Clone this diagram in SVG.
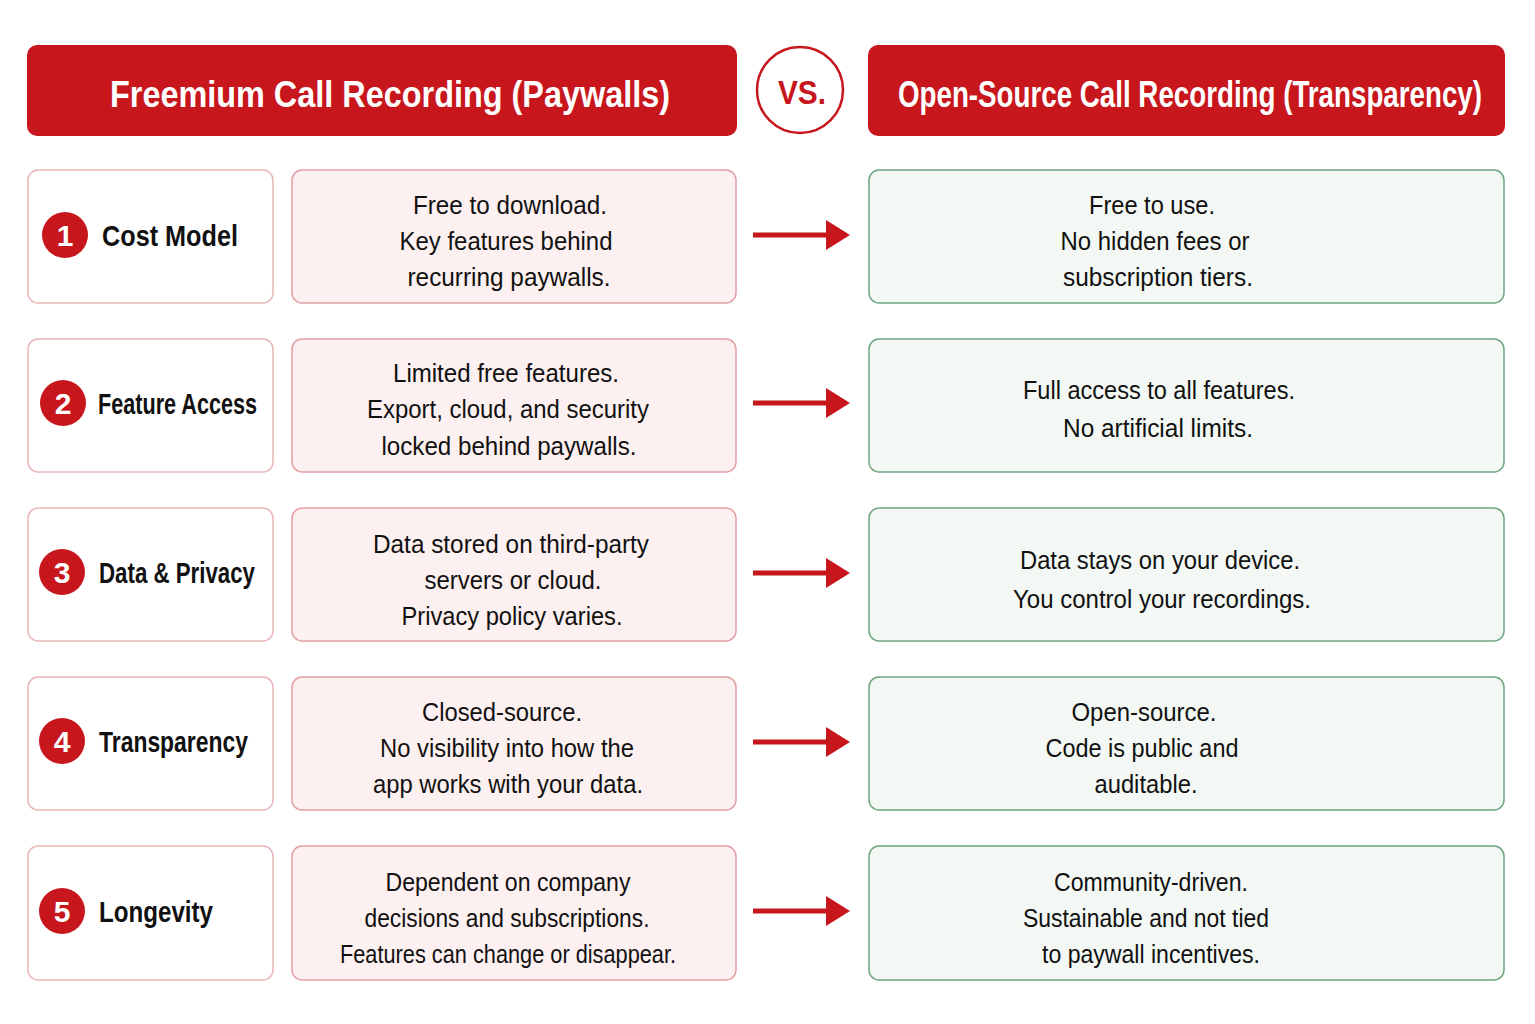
<svg xmlns="http://www.w3.org/2000/svg" width="1535" height="1024" viewBox="0 0 1535 1024">
<style>
text{font-family:"Liberation Sans",Arial,sans-serif;text-anchor:middle}
.ht{fill:#fff;font-size:36px;font-weight:bold}
.lab{fill:#fff;stroke:#eab5b8;stroke-width:1.5}
.mid{fill:#fdf0f0;stroke:#e39ea3;stroke-width:1.5}
.rt{fill:#f3f8f4;stroke:#6ea581;stroke-width:1.5}
.t{font-size:26px;fill:#111}
.lt{font-size:30px;font-weight:bold;fill:#111;text-anchor:start}
.num{fill:#fff;font-size:30px;font-weight:bold}
.arr{stroke:#c8161d;stroke-width:5}
</style>
<defs>
<marker id="ah" markerWidth="24" markerHeight="30" refX="2" refY="15" orient="auto" markerUnits="userSpaceOnUse" viewBox="0 0 24 30"><path d="M0,0L24,15L0,30z" fill="#c8161d"/></marker>
</defs>
<rect width="1535" height="1024" fill="#fff"/>
<g id="header-left"><rect fill="#c8161d" x="27" y="45" width="710" height="91" rx="10"/><text class="ht" x="390" y="107" textLength="560" lengthAdjust="spacingAndGlyphs">Freemium Call Recording (Paywalls)</text></g>
<g id="vs"><circle cx="800" cy="90" r="43" fill="#fff" stroke="#c8161d" stroke-width="2.5"/><text x="802" y="104" font-size="34" font-weight="bold" fill="#c8161d" textLength="48" lengthAdjust="spacingAndGlyphs">VS.</text></g>
<g id="header-right"><rect fill="#c8161d" x="868" y="45" width="637" height="91" rx="10"/><text class="ht" x="1190" y="107" textLength="584" lengthAdjust="spacingAndGlyphs">Open-Source Call Recording (Transparency)</text></g>
<g id="connectors">
<path class="arr" d="M753,235H828" marker-end="url(#ah)"/>
<path class="arr" d="M753,403H828" marker-end="url(#ah)"/>
<path class="arr" d="M753,573H828" marker-end="url(#ah)"/>
<path class="arr" d="M753,742H828" marker-end="url(#ah)"/>
<path class="arr" d="M753,911H828" marker-end="url(#ah)"/>
</g>
<g id="row1">
<rect class="lab" x="28" y="170" width="245" height="133" rx="10"/><circle cx="65" cy="235" r="23" fill="#c8161d"/><text class="num" x="65" y="246">1</text><text class="lt" x="102" y="246" textLength="136" lengthAdjust="spacingAndGlyphs">Cost Model</text>
<rect class="mid" x="292" y="170" width="444" height="133" rx="10"/><text class="t" x="510" y="214" textLength="194" lengthAdjust="spacingAndGlyphs">Free to download.</text><text class="t" x="506" y="250" textLength="213" lengthAdjust="spacingAndGlyphs">Key features behind</text><text class="t" x="509" y="286" textLength="203" lengthAdjust="spacingAndGlyphs">recurring paywalls.</text>
<rect class="rt" x="869" y="170" width="635" height="133" rx="10"/><text class="t" x="1152" y="214" textLength="126" lengthAdjust="spacingAndGlyphs">Free to use.</text><text class="t" x="1155" y="250" textLength="189" lengthAdjust="spacingAndGlyphs">No hidden fees or</text><text class="t" x="1158" y="286" textLength="190" lengthAdjust="spacingAndGlyphs">subscription tiers.</text>
</g>
<g id="row2">
<rect class="lab" x="28" y="339" width="245" height="133" rx="10"/><circle cx="63" cy="403" r="23" fill="#c8161d"/><text class="num" x="63" y="414">2</text><text class="lt" x="98" y="414" textLength="159" lengthAdjust="spacingAndGlyphs">Feature Access</text>
<rect class="mid" x="292" y="339" width="444" height="133" rx="10"/><text class="t" x="506" y="382" textLength="226" lengthAdjust="spacingAndGlyphs">Limited free features.</text><text class="t" x="508" y="418" textLength="282" lengthAdjust="spacingAndGlyphs">Export, cloud, and security</text><text class="t" x="509" y="455" textLength="255" lengthAdjust="spacingAndGlyphs">locked behind paywalls.</text>
<rect class="rt" x="869" y="339" width="635" height="133" rx="10"/><text class="t" x="1159" y="399" textLength="272" lengthAdjust="spacingAndGlyphs">Full access to all features.</text><text class="t" x="1158" y="437" textLength="190" lengthAdjust="spacingAndGlyphs">No artificial limits.</text>
</g>
<g id="row3">
<rect class="lab" x="28" y="508" width="245" height="133" rx="10"/><circle cx="62" cy="572" r="23" fill="#c8161d"/><text class="num" x="62" y="583">3</text><text class="lt" x="99" y="583" textLength="156" lengthAdjust="spacingAndGlyphs">Data &amp; Privacy</text>
<rect class="mid" x="292" y="508" width="444" height="133" rx="10"/><text class="t" x="511" y="553" textLength="276" lengthAdjust="spacingAndGlyphs">Data stored on third-party</text><text class="t" x="513" y="589" textLength="177" lengthAdjust="spacingAndGlyphs">servers or cloud.</text><text class="t" x="512" y="625" textLength="221" lengthAdjust="spacingAndGlyphs">Privacy policy varies.</text>
<rect class="rt" x="869" y="508" width="635" height="133" rx="10"/><text class="t" x="1160" y="569" textLength="280" lengthAdjust="spacingAndGlyphs">Data stays on your device.</text><text class="t" x="1162" y="608" textLength="298" lengthAdjust="spacingAndGlyphs">You control your recordings.</text>
</g>
<g id="row4">
<rect class="lab" x="28" y="677" width="245" height="133" rx="10"/><circle cx="62" cy="741" r="23" fill="#c8161d"/><text class="num" x="62" y="752">4</text><text class="lt" x="99" y="752" textLength="149" lengthAdjust="spacingAndGlyphs">Transparency</text>
<rect class="mid" x="292" y="677" width="444" height="133" rx="10"/><text class="t" x="502" y="721" textLength="160" lengthAdjust="spacingAndGlyphs">Closed-source.</text><text class="t" x="507" y="757" textLength="254" lengthAdjust="spacingAndGlyphs">No visibility into how the</text><text class="t" x="508" y="793" textLength="270" lengthAdjust="spacingAndGlyphs">app works with your data.</text>
<rect class="rt" x="869" y="677" width="635" height="133" rx="10"/><text class="t" x="1144" y="721" textLength="145" lengthAdjust="spacingAndGlyphs">Open-source.</text><text class="t" x="1142" y="757" textLength="193" lengthAdjust="spacingAndGlyphs">Code is public and</text><text class="t" x="1146" y="793" textLength="103" lengthAdjust="spacingAndGlyphs">auditable.</text>
</g>
<g id="row5">
<rect class="lab" x="28" y="846" width="245" height="134" rx="10"/><circle cx="62" cy="911" r="23" fill="#c8161d"/><text class="num" x="62" y="922">5</text><text class="lt" x="99" y="922" textLength="114" lengthAdjust="spacingAndGlyphs">Longevity</text>
<rect class="mid" x="292" y="846" width="444" height="134" rx="10"/><text class="t" x="508" y="891" textLength="245" lengthAdjust="spacingAndGlyphs">Dependent on company</text><text class="t" x="507" y="927" textLength="285" lengthAdjust="spacingAndGlyphs">decisions and subscriptions.</text><text class="t" x="508" y="963" textLength="336" lengthAdjust="spacingAndGlyphs">Features can change or disappear.</text>
<rect class="rt" x="869" y="846" width="635" height="134" rx="10"/><text class="t" x="1151" y="891" textLength="194" lengthAdjust="spacingAndGlyphs">Community-driven.</text><text class="t" x="1146" y="927" textLength="246" lengthAdjust="spacingAndGlyphs">Sustainable and not tied</text><text class="t" x="1151" y="963" textLength="218" lengthAdjust="spacingAndGlyphs">to paywall incentives.</text>
</g>
</svg>
